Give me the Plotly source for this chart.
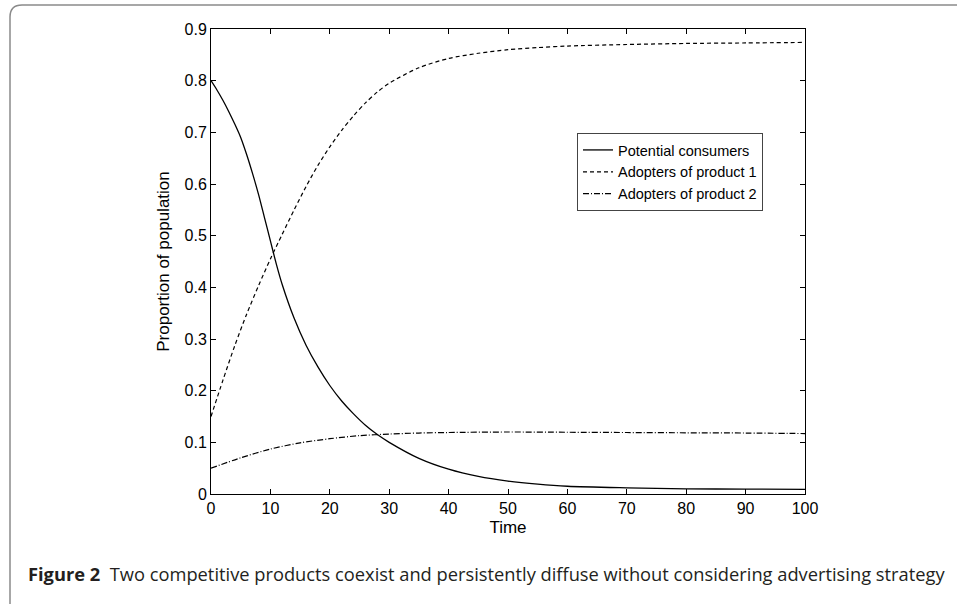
import plotly.graph_objects as go

# ---- data ----
t_s = [0, 1, 2, 3, 4, 5, 6, 7, 8, 9, 10, 11, 12, 14, 16, 18, 20, 22, 24, 26, 28, 30, 35, 40, 45, 50, 55, 60, 70, 80, 90, 100]
potential = [0.80, 0.782, 0.762, 0.74, 0.716, 0.69, 0.657, 0.62, 0.58, 0.535, 0.49, 0.445, 0.405, 0.34, 0.288, 0.246, 0.21, 0.18, 0.155, 0.133, 0.115, 0.10, 0.069, 0.048, 0.034, 0.025, 0.019, 0.015, 0.012, 0.010, 0.0095, 0.009]

t_a1 = [0, 2, 4, 6, 8, 10, 12, 14, 16, 18, 20, 22, 24, 26, 28, 30, 35, 40, 45, 50, 55, 60, 70, 80, 90, 100]
adopt1 = [0.15, 0.22, 0.287, 0.348, 0.403, 0.455, 0.503, 0.55, 0.595, 0.636, 0.672, 0.704, 0.732, 0.757, 0.778, 0.795, 0.825, 0.843, 0.853, 0.86, 0.864, 0.867, 0.870, 0.872, 0.873, 0.874]

t_a2 = [0, 5, 10, 15, 20, 25, 30, 35, 40, 50, 60, 70, 80, 90, 100]
adopt2 = [0.05, 0.07, 0.087, 0.099, 0.107, 0.113, 0.116, 0.118, 0.119, 0.120, 0.1195, 0.119, 0.1185, 0.118, 0.117]

x_ticks = list(range(0, 101, 10))
y_ticks = [0, 0.1, 0.2, 0.3, 0.4, 0.5, 0.6, 0.7, 0.8, 0.9]

caption_bold = "Figure 2"
caption_text = "Two competitive products coexist and persistently diffuse without considering advertising strategy"

# ---- figure ----
fig = go.Figure()
fig.add_trace(go.Scatter(x=t_s, y=potential, mode="lines", name="Potential consumers",
                         line=dict(color="black", width=1.3, shape="spline", smoothing=0.8)))
fig.add_trace(go.Scatter(x=t_a1, y=adopt1, mode="lines", name="Adopters of product 1",
                         line=dict(color="black", width=1.2, dash="4px,3px", shape="spline", smoothing=0.8)))
fig.add_trace(go.Scatter(x=t_a2, y=adopt2, mode="lines", name="Adopters of product 2",
                         line=dict(color="black", width=1.2, dash="6px,2px,1px,2px", shape="spline", smoothing=0.8)))

W, H = 957, 604
L, R, T, B = 211, 805, 29, 494
pw, ph = R - L, B - T

def px(xp):
    return (xp - L) / pw

def py(yp):
    return (B - yp) / ph

FONT = "Liberation Sans, Arial"
axis_common = dict(showline=True, linecolor="black", linewidth=1, mirror="ticks",
                   ticks="inside", ticklen=5, tickcolor="black", showgrid=False, zeroline=False,
                   tickfont=dict(family=FONT, size=16, color="black"))

fig.update_layout(
    width=W, height=H,
    margin=dict(l=L, r=W - R, t=T, b=H - B),
    paper_bgcolor="white", plot_bgcolor="white",
    showlegend=True,
    legend=dict(x=px(577), y=py(133), xanchor="left", yanchor="top",
                bordercolor="#444", borderwidth=1, bgcolor="white",
                font=dict(family=FONT, size=14.5, color="black"),
                tracegroupgap=0, itemwidth=30),
    xaxis=dict(range=[0, 100], tickvals=x_ticks,
               title=dict(text="Time", standoff=4,
                          font=dict(family=FONT, size=17, color="black")),
               **axis_common),
    yaxis=dict(range=[0, 0.9], tickvals=y_ticks,
               title=dict(text="Proportion of population", standoff=10,
                          font=dict(family=FONT, size=17, color="black")),
               **axis_common),
)

# outer rounded frame (top and left edges visible)
rx, ry = 12 / pw, 12 / ph
x0, y0 = px(10), py(5)
x1, y1 = px(975), py(625)
path = (f"M {x1},{y0} L {x0 + rx},{y0} Q {x0},{y0} {x0},{y0 - ry} "
        f"L {x0},{y1 + ry} Q {x0},{y1} {x0 + rx},{y1} L {x1},{y1}")
fig.add_shape(type="path", path=path, xref="paper", yref="paper",
              line=dict(color="#8a8a8a", width=1.5))

fig.add_annotation(x=px(26), y=py(573), xref="paper", yref="paper",
                   xanchor="left", yanchor="middle", showarrow=False,
                   text=f"<b>{caption_bold}</b>  {caption_text}",
                   font=dict(family="Open Sans", size=18.3, color="#231f20"))

fig.write_html("out.html")
